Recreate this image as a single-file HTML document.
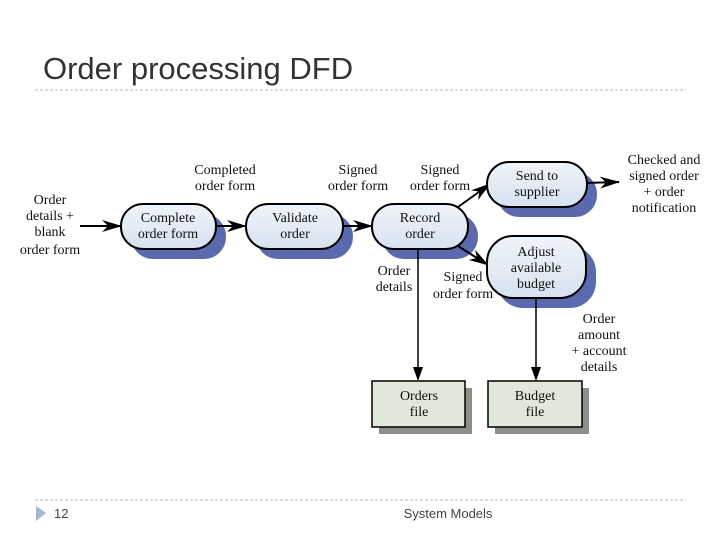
<!DOCTYPE html>
<html><head><meta charset="utf-8"><style>
html,body{margin:0;padding:0;background:#fff;width:720px;height:540px;overflow:hidden}
svg{display:block}
.t{font-family:"Liberation Serif",serif;font-size:14px;fill:#111;text-anchor:middle}
</style></head><body>
<svg width="720" height="540" viewBox="0 0 720 540" xmlns="http://www.w3.org/2000/svg">
<defs>
<marker id="a" markerWidth="20" markerHeight="12" refX="19" refY="6" orient="auto" markerUnits="userSpaceOnUse">
<path d="M0,0 L20,6 L0,12 L6,6 Z" fill="#000"/></marker>
<linearGradient id="g" x1="0" y1="0" x2="0" y2="1"><stop offset="0" stop-color="#f0f4fa"/><stop offset="1" stop-color="#d6e2f0"/></linearGradient>
</defs>
<text x="43" y="79" style="font-family:'Liberation Sans',sans-serif;font-size:31px;fill:#333">Order processing DFD</text>
<line x1="35" y1="90" x2="686" y2="90" stroke="#bbb" stroke-dasharray="3,2"/>
<line x1="35" y1="500" x2="686" y2="500" stroke="#bbb" stroke-dasharray="3,2"/>
<path d="M36,506 L46,513 L36,521 Z" fill="#a5b8cf"/>
<text x="54" y="518" style="font-family:'Liberation Sans',sans-serif;font-size:13px;fill:#444">12</text>
<text x="448" y="518" text-anchor="middle" style="font-family:'Liberation Sans',sans-serif;font-size:13px;fill:#444">System Models</text>
<g fill="#5b6aae">
<rect x="131" y="214" width="95" height="45" rx="22"/>
<rect x="256" y="214" width="97" height="45" rx="22"/>
<rect x="382" y="214" width="96" height="45" rx="22"/>
<rect x="497" y="172" width="100" height="45" rx="22"/>
<rect x="497" y="246" width="99" height="62" rx="26"/>
</g>
<g fill="#8a8f88">
<rect x="379" y="388" width="93" height="46"/>
<rect x="495" y="388" width="94" height="46"/>
</g>
<g stroke="#000" stroke-width="2" fill="none" marker-end="url(#a)">
<line x1="80" y1="226" x2="121" y2="226"/>
<line x1="214" y1="226" x2="246" y2="226"/>
<line x1="341" y1="226" x2="372" y2="226"/>
<line x1="458" y1="207" x2="490" y2="184"/>
<line x1="458" y1="246" x2="488" y2="265"/>
<line x1="584" y1="183" x2="619" y2="182"/>
</g>
<g stroke="#000" stroke-width="1.5" fill="none">
<line x1="418" y1="249" x2="418" y2="372"/>
<line x1="536" y1="298" x2="536" y2="372"/>
</g>
<path d="M413,367 L418,381 L423,367 Z M531,367 L536,381 L541,367 Z" fill="#000"/>
<g fill="url(#g)" stroke="#000" stroke-width="2">
<rect x="121" y="204" width="95" height="45" rx="22"/>
<rect x="246" y="204" width="97" height="45" rx="22"/>
<rect x="372" y="204" width="96" height="45" rx="22"/>
<rect x="487" y="162" width="100" height="45" rx="22"/>
<rect x="487" y="236" width="99" height="62" rx="26"/>
</g>
<g fill="#dfe8da" stroke="#000" stroke-width="1.5">
<rect x="372" y="381" width="93" height="46"/>
<rect x="488" y="381" width="94" height="46"/>
</g>
<g class="t">
<text x="168" y="222">Complete</text><text x="168" y="238">order form</text>
<text x="295" y="222">Validate</text><text x="295" y="238">order</text>
<text x="420" y="222">Record</text><text x="420" y="238">order</text>
<text x="537" y="180">Send to</text><text x="537" y="196">supplier</text>
<text x="536" y="256">Adjust</text><text x="536" y="272">available</text><text x="536" y="288">budget</text>
<text x="419" y="400">Orders</text><text x="419" y="416">file</text>
<text x="535" y="400">Budget</text><text x="535" y="416">file</text>
<text x="50" y="204">Order</text><text x="50" y="220">details +</text><text x="50" y="236">blank</text><text x="50" y="254">order form</text>
<text x="225" y="174">Completed</text><text x="225" y="190">order form</text>
<text x="358" y="174">Signed</text><text x="358" y="190">order form</text>
<text x="440" y="174">Signed</text><text x="440" y="190">order form</text>
<text x="664" y="164">Checked and</text><text x="664" y="180">signed order</text><text x="664" y="196">+ order</text><text x="664" y="212">notification</text>
<text x="394" y="275">Order</text><text x="394" y="291">details</text>
<text x="463" y="281">Signed</text><text x="463" y="298">order form</text>
<text x="599" y="323">Order</text><text x="599" y="339">amount</text><text x="599" y="355">+ account</text><text x="599" y="371">details</text>
</g>
</svg>
</body></html>
